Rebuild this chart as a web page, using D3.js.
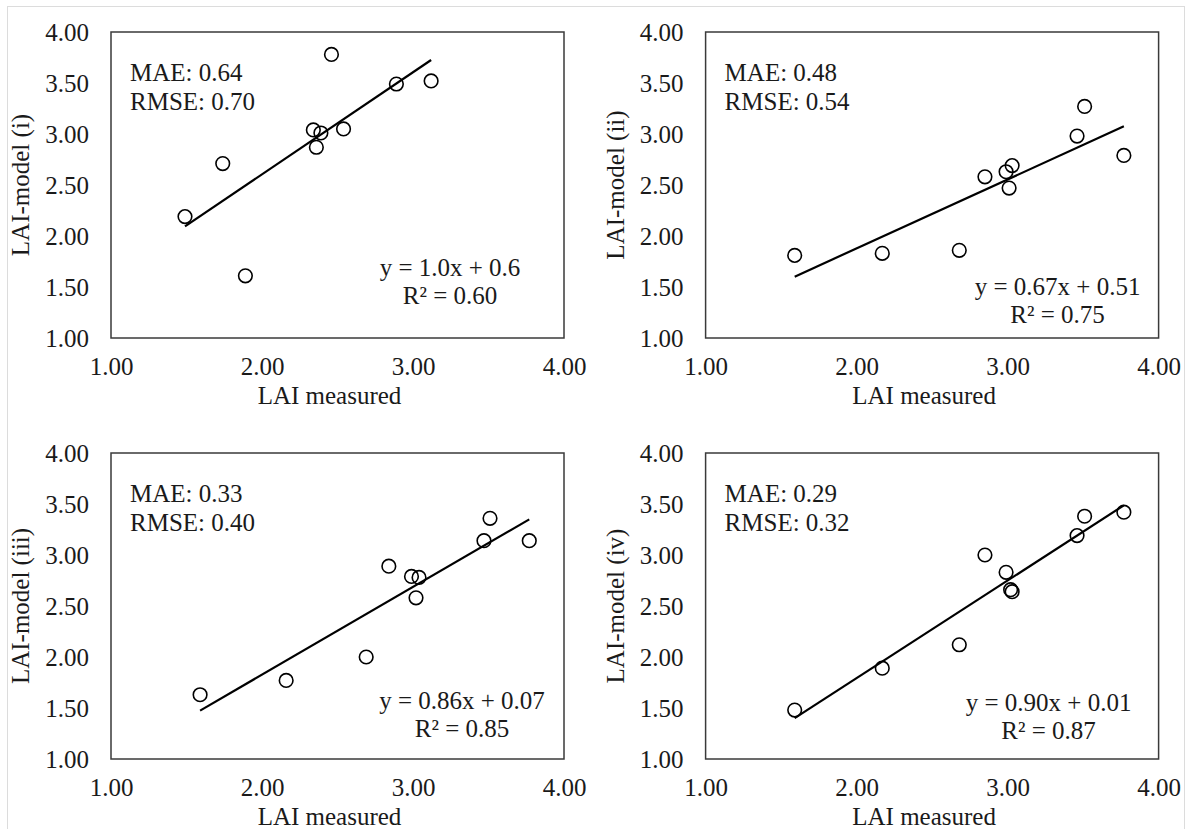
<!DOCTYPE html>
<html lang="en">
<head>
    <meta charset="UTF-8">
    <title>LAI model vs measured</title>
    <script src="https://d3js.org/d3.v7.min.js"></script>
    <style>
        body { margin: 0; background: #fff; }
        svg { display: block; }
        text { font-family: "Liberation Serif", "Times New Roman", serif; fill: #1a1a1a; }
        .tick text { font-size: 25px; }
        .frame { fill: none; stroke: #3a3a3a; stroke-width: 1.5px; }
        .fit { stroke: #000; stroke-width: 2.2px; }
        .pt { fill: none; stroke: #000; stroke-width: 1.6px; }
    </style>
</head>
<body>
<svg width="1189" height="829"></svg>
<script>
    // values
    const measuredI   = [1.49, 1.74, 1.89, 2.34, 2.39, 2.36, 2.54, 2.46, 2.89, 3.12];
    const modelI      = [2.19, 2.71, 1.61, 3.04, 3.01, 2.87, 3.05, 3.78, 3.49, 3.52];
    const measuredII  = [1.59, 2.17, 2.68, 2.85, 2.99, 3.03, 3.01, 3.46, 3.51, 3.77];
    const modelII     = [1.81, 1.83, 1.86, 2.58, 2.63, 2.69, 2.47, 2.98, 3.27, 2.79];
    const measuredIII = [1.59, 2.16, 2.69, 2.84, 2.99, 3.04, 3.02, 3.47, 3.51, 3.77];
    const modelIII    = [1.63, 1.77, 2.00, 2.89, 2.79, 2.78, 2.58, 3.14, 3.36, 3.14];
    const measuredIV  = [1.59, 2.17, 2.68, 2.85, 2.99, 3.02, 3.03, 3.46, 3.51, 3.77];
    const modelIV     = [1.48, 1.89, 2.12, 3.00, 2.83, 2.66, 2.64, 3.19, 3.38, 3.42];

    const yTitles  = ['LAI-model (i)', 'LAI-model (ii)', 'LAI-model (iii)', 'LAI-model (iv)'];
    const maeText  = ['MAE: 0.64', 'MAE: 0.48', 'MAE: 0.33', 'MAE: 0.29'];
    const rmseText = ['RMSE: 0.70', 'RMSE: 0.54', 'RMSE: 0.40', 'RMSE: 0.32'];
    const eqText   = ['y = 1.0x + 0.6', 'y = 0.67x + 0.51', 'y = 0.86x + 0.07', 'y = 0.90x + 0.01'];
    const r2Text   = ['R\u00b2 = 0.60', 'R\u00b2 = 0.75', 'R\u00b2 = 0.85', 'R\u00b2 = 0.87'];
    const xTicks   = [1, 2, 3, 4];
    const yTicks   = [1, 1.5, 2, 2.5, 3, 3.5, 4];

    const series = [
        [measuredI, modelI],
        [measuredII, modelII],
        [measuredIII, modelIII],
        [measuredIV, modelIV]
    ];

    // layout
    const origins = [[111, 32], [705.6, 32], [111, 453], [705.6, 453]];
    const eqPos = [[339, 244], [352, 263], [351, 256], [343, 258]]; // centre x, baseline y inside plot
    const w = 453, h = 306;

    const svg = d3.select('svg');
    svg.append('rect')
        .attr('x', 7.5).attr('y', 6.5).attr('width', 1177).attr('height', 840)
        .attr('fill', 'none').attr('stroke', '#dcdcdc').attr('stroke-width', 1);

    const fmt = d3.format('.2f');

    series.forEach(([xs, ys], i) => {
        const [ox, oy] = origins[i];
        const g = svg.append('g').attr('transform', `translate(${ox},${oy})`);
        const x = d3.scaleLinear().domain([1, 4]).range([0, w]);
        const y = d3.scaleLinear().domain([1, 4]).range([h, 0]);

        const xAxis = g.append('g')
            .attr('transform', `translate(0,${h})`)
            .call(d3.axisBottom(x).tickValues(xTicks).tickFormat(fmt).tickSize(0).tickPadding(19));
        xAxis.select('.domain').remove();

        const yAxis = g.append('g')
            .call(d3.axisLeft(y).tickValues(yTicks).tickFormat(fmt).tickSize(0).tickPadding(22));
        yAxis.select('.domain').remove();

        g.append('rect').attr('class', 'frame')
            .attr('width', w).attr('height', h);

        // least squares fit from the points
        const mx = d3.mean(xs), my = d3.mean(ys);
        const sxy = d3.sum(xs, (v, k) => (v - mx) * (ys[k] - my));
        const sxx = d3.sum(xs, v => (v - mx) * (v - mx));
        const slope = sxy / sxx, icpt = my - slope * mx;
        const [x0, x1] = d3.extent(xs);
        g.append('line').attr('class', 'fit')
            .attr('x1', x(x0)).attr('y1', y(slope * x0 + icpt))
            .attr('x2', x(x1)).attr('y2', y(slope * x1 + icpt));

        g.selectAll('circle.pt')
            .data(xs.map((v, k) => [v, ys[k]]))
            .join('circle')
            .attr('class', 'pt')
            .attr('cx', d => x(d[0]))
            .attr('cy', d => y(d[1]))
            .attr('r', 6.8);

        g.append('text').attr('x', 19).attr('y', 49).style('font-size', '25px').text(maeText[i]);
        g.append('text').attr('x', 19).attr('y', 78).style('font-size', '25px').text(rmseText[i]);

        const [ex, ey] = eqPos[i];
        g.append('text').attr('x', ex).attr('y', ey).attr('text-anchor', 'middle')
            .style('font-size', '25px').text(eqText[i]);
        g.append('text').attr('x', ex).attr('y', ey + 28).attr('text-anchor', 'middle')
            .style('font-size', '25px').text(r2Text[i]);

        g.append('text')
            .attr('x', w / 2 - 8).attr('y', h + 66)
            .attr('text-anchor', 'middle')
            .style('font-size', '25px')
            .text('LAI measured');

        g.append('text')
            .attr('transform', `translate(${-82},${h / 2}) rotate(-90)`)
            .attr('text-anchor', 'middle')
            .style('font-size', '25px')
            .text(yTitles[i]);
    });
</script>
</body>
</html>
